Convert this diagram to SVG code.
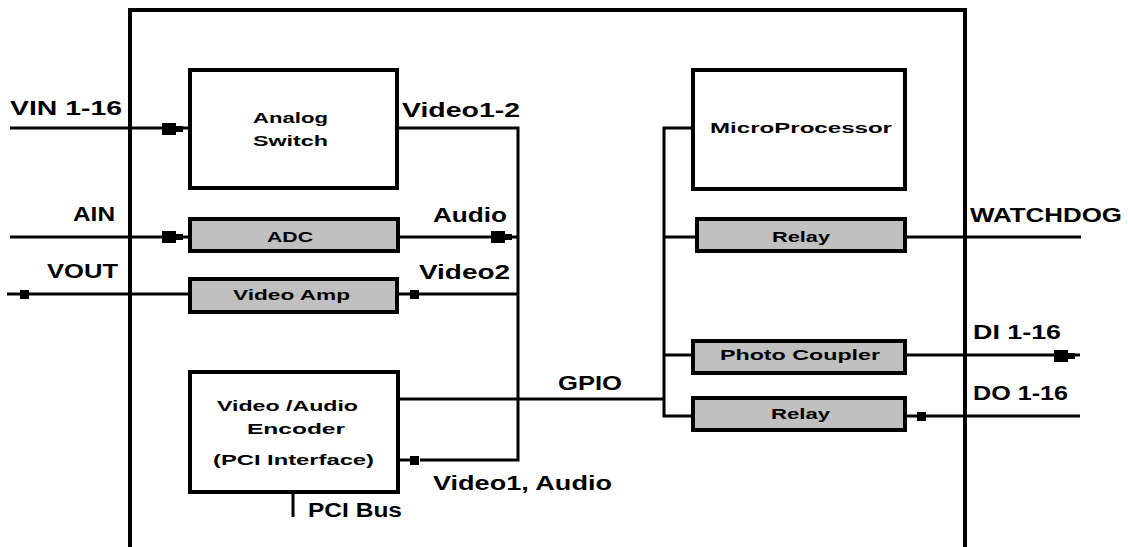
<svg xmlns="http://www.w3.org/2000/svg" width="1128" height="547" viewBox="0 0 1128 547">
<style>
.bg{fill:#ffffff}
.frame{fill:none;stroke:#000;stroke-width:4}
.box{fill:#ffffff;stroke:#000;stroke-width:4}
.gbox{fill:#c0c0c0;stroke:#000;stroke-width:4}
.wire{fill:none;stroke:#000;stroke-width:3}
.lbl{font-family:"Liberation Sans",Arial,sans-serif;font-weight:bold;font-size:20px;fill:#000}
.btxt{font-family:"Liberation Sans",Arial,sans-serif;font-weight:bold;font-size:14px;fill:#000}
.mk{fill:#000}
</style>
<defs>
<g id="arrowIn"><rect x="-21" y="-6" width="14" height="12" class="mk"/><rect x="-7" y="-3" width="7" height="6" class="mk"/></g>
<rect id="sq" x="-4" y="-4" width="9" height="9" class="mk"/>
</defs>
<rect class="bg" x="0" y="0" width="1128" height="547"/>
<path class="frame" d="M130,547 V10 H965 V547"/>

<g id="connectors">
<line class="wire" x1="10" y1="128" x2="190" y2="128"/>
<line class="wire" x1="10" y1="237" x2="190" y2="237"/>
<line class="wire" x1="7" y1="294" x2="190" y2="294"/>
<use href="#arrowIn" x="183" y="129"/>
<use href="#arrowIn" x="183" y="237"/>
<use href="#sq" x="24" y="294"/>
<polyline class="wire" points="397,128 518,128 518,460 420,460"/>
<line class="wire" x1="397" y1="237" x2="518" y2="237"/>
<use href="#arrowIn" x="512" y="237"/>
<line class="wire" x1="397" y1="294" x2="518" y2="294"/>
<use href="#sq" x="414" y="294"/>
<line class="wire" x1="398" y1="460" x2="410" y2="460"/>
<use href="#sq" x="414" y="460"/>
<line class="wire" x1="398" y1="399" x2="664" y2="399"/>
<polyline class="wire" points="693,128 664,128 664,416 693,416"/>
<line class="wire" x1="664" y1="237" x2="697" y2="237"/>
<line class="wire" x1="664" y1="355" x2="693" y2="355"/>
<line class="wire" x1="905" y1="237" x2="1081" y2="237"/>
<line class="wire" x1="905" y1="355" x2="1080" y2="355"/>
<use href="#arrowIn" x="1075" y="356"/>
<line class="wire" x1="905" y1="416" x2="1080" y2="416"/>
<use href="#sq" x="921" y="416"/>
<line class="wire" x1="293" y1="492" x2="293" y2="517"/>
</g>

<g id="analog-switch">
<rect class="box" x="190" y="70" width="207" height="118"/>
<text class="btxt" x="253" y="123" textLength="75" lengthAdjust="spacingAndGlyphs">Analog</text>
<text class="btxt" x="253" y="146" textLength="75" lengthAdjust="spacingAndGlyphs">Switch</text>
</g>
<g id="adc">
<rect class="gbox" x="190" y="219" width="208" height="32"/>
<text class="btxt" x="267" y="242" textLength="46" lengthAdjust="spacingAndGlyphs">ADC</text>
</g>
<g id="video-amp">
<rect class="gbox" x="190" y="279" width="207" height="33"/>
<text class="btxt" x="233" y="300" textLength="117" lengthAdjust="spacingAndGlyphs">Video Amp</text>
</g>
<g id="encoder">
<rect class="box" x="190" y="372" width="208" height="120"/>
<text class="btxt" x="217" y="411" textLength="141" lengthAdjust="spacingAndGlyphs">Video /Audio</text>
<text class="btxt" x="247" y="434" textLength="98" lengthAdjust="spacingAndGlyphs">Encoder</text>
<text class="btxt" x="213" y="465" textLength="161" lengthAdjust="spacingAndGlyphs">(PCI Interface)</text>
</g>
<g id="microprocessor">
<rect class="box" x="693" y="70" width="212" height="119"/>
<text class="btxt" x="710" y="133" textLength="182" lengthAdjust="spacingAndGlyphs">MicroProcessor</text>
</g>
<g id="relay1">
<rect class="gbox" x="697" y="219" width="208" height="32"/>
<text class="btxt" x="772" y="242" textLength="58" lengthAdjust="spacingAndGlyphs">Relay</text>
</g>
<g id="photo-coupler">
<rect class="gbox" x="693" y="341" width="212" height="32"/>
<text class="btxt" x="720" y="360" textLength="160" lengthAdjust="spacingAndGlyphs">Photo Coupler</text>
</g>
<g id="relay2">
<rect class="gbox" x="693" y="398" width="212" height="32"/>
<text class="btxt" x="771" y="419" textLength="59" lengthAdjust="spacingAndGlyphs">Relay</text>
</g>

<g id="labels">
<text class="lbl" x="10" y="115" textLength="112" lengthAdjust="spacingAndGlyphs">VIN 1-16</text>
<text class="lbl" x="73" y="221" textLength="42" lengthAdjust="spacingAndGlyphs">AIN</text>
<text class="lbl" x="47" y="278" textLength="71" lengthAdjust="spacingAndGlyphs">VOUT</text>
<text class="lbl" x="402" y="117" textLength="118" lengthAdjust="spacingAndGlyphs">Video1-2</text>
<text class="lbl" x="433" y="222" textLength="74" lengthAdjust="spacingAndGlyphs">Audio</text>
<text class="lbl" x="419" y="279" textLength="91" lengthAdjust="spacingAndGlyphs">Video2</text>
<text class="lbl" x="558" y="390" textLength="64" lengthAdjust="spacingAndGlyphs">GPIO</text>
<text class="lbl" x="433" y="490" textLength="179" lengthAdjust="spacingAndGlyphs">Video1, Audio</text>
<text class="lbl" x="308" y="517" textLength="94" lengthAdjust="spacingAndGlyphs">PCI Bus</text>
<text class="lbl" x="970" y="222" textLength="152" lengthAdjust="spacingAndGlyphs">WATCHDOG</text>
<text class="lbl" x="973" y="339" textLength="88" lengthAdjust="spacingAndGlyphs">DI 1-16</text>
<text class="lbl" x="973" y="400" textLength="95" lengthAdjust="spacingAndGlyphs">DO 1-16</text>
</g>
</svg>
